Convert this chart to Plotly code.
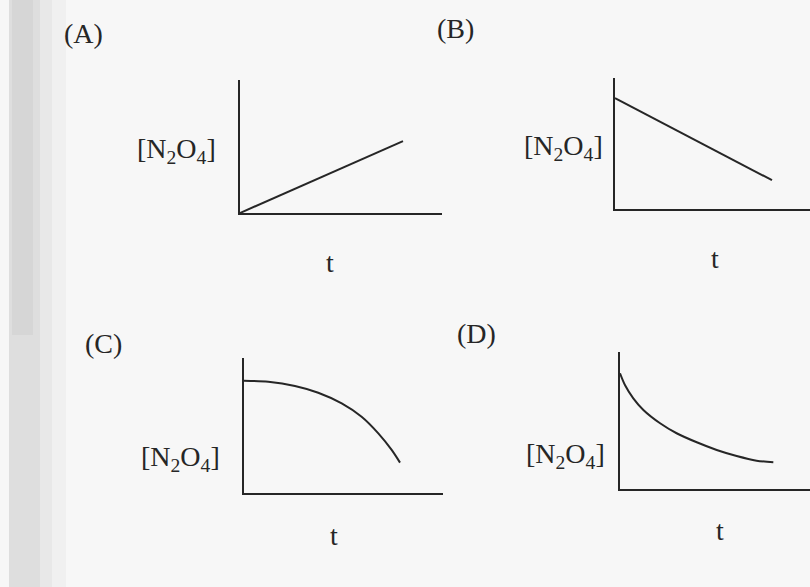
import plotly.graph_objects as go

W, H = 810, 587

# curve values, axes scaled 0..10 in each panel
a_t = [0, 8.07]
a_conc = [0, 5.4]

b_t = [0, 8.05]
b_conc = [8.47, 2.2]

c_t = [0, 1.22, 2.56, 3.73, 4.91, 5.91, 6.75, 7.42, 7.84]
c_conc = [8.32, 8.24, 7.93, 7.43, 6.64, 5.65, 4.42, 3.19, 2.25]

d_t = [0, 0.26, 0.70, 1.23, 2.11, 2.98, 4.04, 5.09, 6.14, 7.19, 8.07]
d_conc = [8.44, 7.59, 6.62, 5.77, 4.80, 4.07, 3.41, 2.85, 2.41, 2.07, 1.95]

panel_names = ["(A)", "(B)", "(C)", "(D)"]
y_label = "[N<sub>2</sub>O<sub>4</sub>]"
x_label = "t"

# panel boxes in pixels: left, right, top, bottom
boxes = [(240, 442, 80, 213), (615, 810, 78, 209),
         (244, 443, 358, 493), (620, 810, 352, 489)]
name_pos = [(83, 33), (455, 28), (103, 343), (476, 333)]
ylab_pos = [(176, 150), (563, 148), (180, 458), (565, 455)]
xlab_pos = [(330, 262), (715, 258), (334, 535), (720, 530)]

ink = "#262626"
serif = "Liberation Serif, Times New Roman, serif"

def px(x):
    return x / W

def py(y):
    return 1 - y / H

fig = go.Figure()
series = [(a_t, a_conc), (b_t, b_conc), (c_t, c_conc), (d_t, d_conc)]
layout = {}
for i, ((t, conc), box) in enumerate(zip(series, boxes)):
    n = "" if i == 0 else str(i + 1)
    fig.add_trace(go.Scatter(
        x=t, y=conc, mode="lines",
        line=dict(color=ink, width=2, shape="spline", smoothing=0.8),
        xaxis="x" + n, yaxis="y" + n, showlegend=False, hoverinfo="skip"
    ))
    l, r, top, bot = box
    axis_style = dict(range=[0, 10], showgrid=False, zeroline=False,
                      showticklabels=False, ticks="", showline=True,
                      linecolor=ink, linewidth=2, fixedrange=True)
    layout["xaxis" + n] = dict(axis_style, domain=[px(l), px(r)], anchor="y" + n)
    layout["yaxis" + n] = dict(axis_style, domain=[py(bot), py(top)], anchor="x" + n)

annotations = []
for i in range(4):
    for (x, y), text in [(name_pos[i], panel_names[i]), (ylab_pos[i], y_label),
                         (xlab_pos[i], x_label)]:
        annotations.append(dict(
            x=px(x), y=py(y), xref="paper", yref="paper", text=text,
            showarrow=False, xanchor="center", yanchor="middle",
            font=dict(family=serif, size=28, color=ink)
        ))

# scanned page edge on the left
shapes = [
    dict(type="rect", xref="paper", yref="paper", x0=px(9), x1=px(40), y0=0, y1=1,
         fillcolor="#dedede", line=dict(width=0), layer="below"),
    dict(type="rect", xref="paper", yref="paper", x0=px(40), x1=px(52), y0=0, y1=1,
         fillcolor="#e8e8e8", line=dict(width=0), layer="below"),
    dict(type="rect", xref="paper", yref="paper", x0=px(52), x1=px(66), y0=0, y1=1,
         fillcolor="#f0f0f0", line=dict(width=0), layer="below"),
    dict(type="rect", xref="paper", yref="paper", x0=px(12), x1=px(33), y0=py(335), y1=1,
         fillcolor="#d6d6d6", line=dict(width=0), layer="below"),
]

fig.update_layout(
    width=W, height=H,
    margin=dict(l=0, r=0, t=0, b=0),
    paper_bgcolor="#f7f7f7", plot_bgcolor="rgba(0,0,0,0)",
    annotations=annotations, shapes=shapes,
    **layout
)

fig.write_html("out.html", config={"displayModeBar": False},
               post_script="document.body.style.margin='0';")
